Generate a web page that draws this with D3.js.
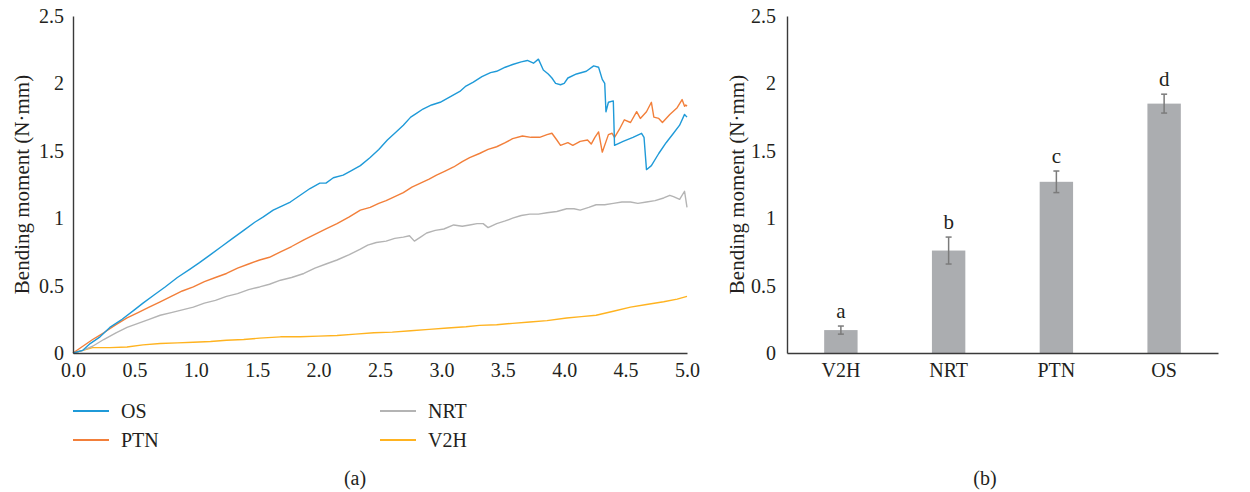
<!DOCTYPE html>
<html>
<head>
<meta charset="utf-8">
<script src="https://cdn.jsdelivr.net/npm/d3@7"></script>
<style>
  html, body { margin: 0; padding: 0; background: #fff; }
  svg { display: block; font-family: "Liberation Serif", "DejaVu Serif", serif; }
  svg text { font-family: "Liberation Serif", "DejaVu Serif", serif; }
</style>
</head>
<body>
<svg id="chart" width="1250" height="492"></svg>
<script>
// ---------- DATA ----------
const lineSeriesNames = ["OS", "PTN", "NRT", "V2H"];
const osData = [[0,0],[0.08,0.02],[0.14,0.07],[0.22,0.12],[0.30,0.19],[0.40,0.25],[0.50,0.32],[0.57,0.37],[0.66,0.43],[0.75,0.49],[0.85,0.56],[0.95,0.62],[1.03,0.67],[1.12,0.73],[1.21,0.79],[1.30,0.85],[1.39,0.91],[1.48,0.97],[1.55,1.01],[1.63,1.06],[1.70,1.09],[1.77,1.12],[1.85,1.17],[1.93,1.22],[2.01,1.26],[2.06,1.26],[2.12,1.30],[2.20,1.32],[2.26,1.35],[2.34,1.39],[2.42,1.45],[2.49,1.51],[2.56,1.58],[2.62,1.63],[2.69,1.69],[2.75,1.75],[2.80,1.78],[2.85,1.81],[2.92,1.84],[2.99,1.86],[3.07,1.90],[3.15,1.94],[3.20,1.98],[3.26,2.01],[3.33,2.05],[3.40,2.08],[3.45,2.09],[3.52,2.12],[3.58,2.14],[3.65,2.16],[3.70,2.17],[3.75,2.15],[3.79,2.18],[3.83,2.10],[3.87,2.07],[3.90,2.04],[3.93,2.00],[3.97,1.99],[4.00,2.00],[4.03,2.04],[4.10,2.07],[4.18,2.09],[4.24,2.13],[4.28,2.12],[4.31,2.03],[4.33,2.00],[4.34,1.79],[4.36,1.86],[4.40,1.87],[4.41,1.54],[4.48,1.57],[4.56,1.60],[4.63,1.63],[4.65,1.60],[4.67,1.36],[4.71,1.39],[4.77,1.48],[4.83,1.56],[4.89,1.63],[4.94,1.69],[4.98,1.77],[5.0,1.75]];
const ptnData = [[0,0],[0.08,0.05],[0.16,0.10],[0.25,0.15],[0.35,0.21],[0.44,0.26],[0.53,0.30],[0.62,0.34],[0.71,0.38],[0.80,0.42],[0.89,0.46],[0.98,0.49],[1.07,0.53],[1.16,0.56],[1.25,0.59],[1.34,0.63],[1.43,0.66],[1.52,0.69],[1.60,0.71],[1.69,0.75],[1.78,0.79],[1.88,0.84],[1.97,0.88],[2.06,0.92],[2.15,0.96],[2.25,1.01],[2.34,1.06],[2.42,1.08],[2.49,1.11],[2.55,1.13],[2.62,1.16],[2.69,1.19],[2.76,1.23],[2.83,1.26],[2.90,1.29],[2.96,1.32],[3.03,1.35],[3.10,1.38],[3.17,1.42],[3.23,1.45],[3.31,1.48],[3.38,1.51],[3.45,1.53],[3.52,1.56],[3.58,1.59],[3.66,1.61],[3.73,1.60],[3.80,1.60],[3.86,1.62],[3.90,1.63],[3.94,1.58],[3.97,1.54],[4.03,1.56],[4.07,1.54],[4.13,1.57],[4.19,1.58],[4.22,1.55],[4.25,1.60],[4.28,1.64],[4.31,1.49],[4.36,1.62],[4.39,1.63],[4.41,1.60],[4.45,1.66],[4.49,1.73],[4.54,1.71],[4.59,1.79],[4.62,1.74],[4.67,1.79],[4.71,1.86],[4.73,1.75],[4.77,1.74],[4.80,1.71],[4.86,1.77],[4.92,1.82],[4.96,1.88],[4.98,1.83],[4.99,1.84],[5.0,1.83]];
const nrtData = [[0,0],[0.08,0.02],[0.16,0.05],[0.25,0.10],[0.35,0.15],[0.44,0.19],[0.53,0.22],[0.62,0.25],[0.71,0.28],[0.80,0.30],[0.89,0.32],[0.98,0.34],[1.07,0.37],[1.16,0.39],[1.25,0.42],[1.34,0.44],[1.43,0.47],[1.52,0.49],[1.60,0.51],[1.69,0.54],[1.78,0.56],[1.88,0.59],[1.97,0.63],[2.06,0.66],[2.15,0.69],[2.25,0.73],[2.34,0.77],[2.40,0.80],[2.47,0.82],[2.55,0.83],[2.62,0.85],[2.69,0.86],[2.74,0.87],[2.78,0.83],[2.83,0.86],[2.88,0.89],[2.95,0.91],[3.02,0.92],[3.10,0.95],[3.17,0.94],[3.23,0.95],[3.29,0.96],[3.34,0.96],[3.38,0.93],[3.45,0.96],[3.52,0.98],[3.58,1.00],[3.65,1.02],[3.72,1.03],[3.79,1.03],[3.86,1.04],[3.94,1.05],[4.02,1.07],[4.08,1.07],[4.13,1.06],[4.20,1.08],[4.26,1.10],[4.33,1.10],[4.40,1.11],[4.47,1.12],[4.54,1.12],[4.60,1.11],[4.67,1.12],[4.74,1.13],[4.81,1.15],[4.86,1.17],[4.89,1.16],[4.94,1.14],[4.98,1.20],[5.0,1.08]];
const v2hData = [[0,0],[0.08,0.02],[0.16,0.04],[0.30,0.04],[0.44,0.045],[0.57,0.06],[0.71,0.07],[0.85,0.075],[0.98,0.08],[1.12,0.085],[1.25,0.095],[1.39,0.10],[1.52,0.11],[1.69,0.12],[1.85,0.12],[2.0,0.125],[2.15,0.13],[2.30,0.14],[2.45,0.15],[2.60,0.155],[2.75,0.165],[2.90,0.175],[3.05,0.185],[3.20,0.195],[3.31,0.205],[3.45,0.21],[3.58,0.22],[3.72,0.23],[3.86,0.24],[4.02,0.26],[4.14,0.27],[4.26,0.28],[4.40,0.31],[4.54,0.34],[4.67,0.36],[4.81,0.38],[4.92,0.40],[5.0,0.42]];

const xTickValues = [0,0.5,1,1.5,2,2.5,3,3.5,4,4.5,5];
const yTickValues = [0,0.5,1,1.5,2,2.5];
const yTickLabels = ["0","0.5","1","1.5","2","2.5"];

const barCategories = ["V2H", "NRT", "PTN", "OS"];
const barValues = [0.17, 0.76, 1.27, 1.85];
const barErrors = [0.03, 0.10, 0.08, 0.07];
const barLetters = ["a", "b", "c", "d"];

const yTitle = "Bending moment (N\u00B7mm)";
const captions = ["(a)", "(b)"];

// ---------- STYLE ----------
const FONT = "'Liberation Serif', 'DejaVu Serif', serif";
const colors = { OS: "#1f9ad8", PTN: "#f27f3a", NRT: "#b4b4b4", V2H: "#ffb320" };
const axisColor = "#3a3a3a";
const textColor = "#231f20";

const svg = d3.select("#chart");

// ---------- LEFT: line chart ----------
const L = { left: 73, right: 687, top: 16, bottom: 353 };
const xL = d3.scaleLinear().domain([0, 5]).range([L.left, L.right]);
const yL = d3.scaleLinear().domain([0, 2.5]).range([L.bottom, L.top]);

const gL = svg.append("g");
const series = [
  { name: "OS", data: osData },
  { name: "PTN", data: ptnData },
  { name: "NRT", data: nrtData },
  { name: "V2H", data: v2hData }
];
const line = d3.line().x(d => xL(d[0])).y(d => yL(d[1]));
[...series].reverse().forEach(s => {
  gL.append("path").datum(s.data)
    .attr("d", line).attr("fill", "none")
    .attr("stroke", colors[s.name]).attr("stroke-width", 1.4)
    .attr("stroke-linejoin", "round");
});

const xAxisL = d3.axisBottom(xL).tickValues(xTickValues).tickSize(0).tickPadding(10)
  .tickFormat(d3.format(".1f"));
const gxL = gL.append("g").attr("transform", `translate(0,${L.bottom})`).call(xAxisL);
const yAxisL = d3.axisLeft(yL).tickValues(yTickValues).tickSize(0).tickPadding(9)
  .tickFormat((d, i) => yTickLabels[i]);
const gyL = gL.append("g").attr("transform", `translate(${L.left},0)`).call(yAxisL);

function styleAxis(g) {
  g.attr("font-family", FONT).attr("font-size", 20);
  g.select(".domain").attr("stroke", axisColor).attr("stroke-width", 1.4);
  g.selectAll("text").attr("font-size", 20).attr("fill", textColor)
    .style("font-family", FONT);
}
[gxL, gyL].forEach(styleAxis);

gL.append("text")
  .attr("transform", `translate(22,${(L.top + L.bottom) / 2}) rotate(-90)`)
  .attr("text-anchor", "middle").attr("dominant-baseline", "central")
  .attr("font-size", 21).attr("fill", textColor).style("font-family", FONT).text(yTitle);

// legend
const legendPos = [
  { name: "OS", x: 73, y: 411 },
  { name: "PTN", x: 73, y: 440 },
  { name: "NRT", x: 380, y: 411 },
  { name: "V2H", x: 380, y: 440 }
];
legendPos.forEach(p => {
  gL.append("line").attr("x1", p.x).attr("x2", p.x + 36).attr("y1", p.y).attr("y2", p.y)
    .attr("stroke", colors[p.name]).attr("stroke-width", 2);
  gL.append("text").attr("x", p.x + 48).attr("y", p.y).attr("dominant-baseline", "central")
    .attr("font-size", 20).attr("fill", textColor).style("font-family", FONT).text(p.name);
});

// ---------- RIGHT: bar chart ----------
const R = { left: 787, right: 1218, top: 16, bottom: 353 };
const xR = d3.scaleBand().domain(barCategories).range([R.left, R.right]).paddingInner(0.69).paddingOuter(0.345);
const yR = d3.scaleLinear().domain([0, 2.5]).range([R.bottom, R.top]);
const gR = svg.append("g");

gR.selectAll("rect.bar").data(barCategories).enter().append("rect")
  .attr("class", "bar")
  .attr("x", d => xR(d)).attr("width", xR.bandwidth())
  .attr("y", (d, i) => yR(barValues[i]))
  .attr("height", (d, i) => yR(0) - yR(barValues[i]))
  .attr("fill", "#abadb0");

const errG = gR.selectAll("g.err").data(barCategories).enter().append("g").attr("class", "err");
errG.each(function(d, i) {
  const cx = xR(d) + xR.bandwidth() / 2;
  const g = d3.select(this);
  const top = yR(barValues[i] + barErrors[i]);
  const bot = yR(barValues[i] - barErrors[i]);
  g.append("line").attr("x1", cx).attr("x2", cx).attr("y1", top).attr("y2", bot)
    .attr("stroke", "#7b7b7b").attr("stroke-width", 1.5);
  [top, bot].forEach(yy => g.append("line").attr("x1", cx - 3).attr("x2", cx + 3)
    .attr("y1", yy).attr("y2", yy).attr("stroke", "#7b7b7b").attr("stroke-width", 1.5));
  g.append("text").attr("x", cx).attr("y", top - 8).attr("text-anchor", "middle")
    .attr("font-size", 21).attr("fill", textColor).style("font-family", FONT).text(barLetters[i]);
});

const xAxisR = d3.axisBottom(xR).tickSize(0).tickPadding(10);
const gxR = gR.append("g").attr("transform", `translate(0,${R.bottom})`).call(xAxisR);
const yAxisR = d3.axisLeft(yR).tickValues(yTickValues).tickSize(0).tickPadding(11)
  .tickFormat((d, i) => yTickLabels[i]);
const gyR = gR.append("g").attr("transform", `translate(${R.left},0)`).call(yAxisR);
[gxR, gyR].forEach(styleAxis);

gR.append("text")
  .attr("transform", `translate(737,${(R.top + R.bottom) / 2}) rotate(-90)`)
  .attr("text-anchor", "middle").attr("dominant-baseline", "central")
  .attr("font-size", 21).attr("fill", textColor).style("font-family", FONT).text(yTitle);

// captions
svg.append("text").attr("x", 355).attr("y", 478).attr("text-anchor", "middle")
  .attr("dominant-baseline", "central").attr("font-size", 20).attr("fill", textColor)
  .style("font-family", FONT).text(captions[0]);
svg.append("text").attr("x", 985).attr("y", 478).attr("text-anchor", "middle")
  .attr("dominant-baseline", "central").attr("font-size", 20).attr("fill", textColor)
  .style("font-family", FONT).text(captions[1]);
</script>
</body>
</html>
